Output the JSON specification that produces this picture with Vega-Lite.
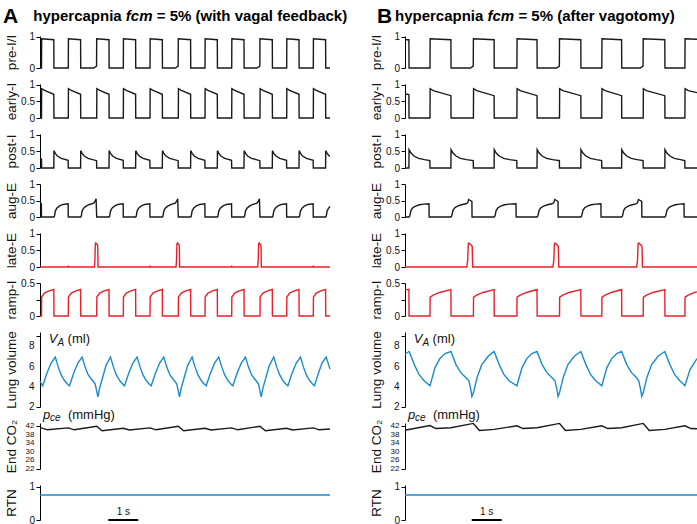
{
"$schema":"https://vega.github.io/schema/vega-lite/v6.json",
"background":"white",
"padding":{"left":3,"top":6,"right":0,"bottom":0},
"config":{"view":{"stroke":null},"font":"Liberation Sans",
"axis":{"domainColor":"#000","tickColor":"#000","tickSize":4,"labelFontSize":10,"labelPadding":1.5,"labelColor":"#111","titleColor":"#111","titleFontSize":13.5,"titleFontWeight":"normal","titlePadding":2,"minExtent":20,"maxExtent":20,"grid":false,"labelOverlap":false,"labelFlush":false,"labelFont":"Liberation Sans","titleFont":"Liberation Sans","format":"~g"}},
"datasets":{
"A_pre":[{"t":0,"v":0},{"t":0.05,"v":0},{"t":0.055,"v":0.93},{"t":0.46,"v":0.9},{"t":0.465,"v":0},{"t":0.943,"v":0},{"t":0.948,"v":0.93},{"t":1.353,"v":0.9},{"t":1.358,"v":0},{"t":1.79,"v":0},{"t":1.885,"v":0.06},{"t":1.89,"v":0.93},{"t":2.3,"v":0.9},{"t":2.305,"v":0},{"t":2.777,"v":0},{"t":2.782,"v":0.93},{"t":3.187,"v":0.9},{"t":3.192,"v":0},{"t":3.667,"v":0},{"t":3.672,"v":0.93},{"t":4.077,"v":0.9},{"t":4.082,"v":0},{"t":4.51,"v":0},{"t":4.605,"v":0.06},{"t":4.61,"v":0.93},{"t":5.02,"v":0.9},{"t":5.025,"v":0},{"t":5.5,"v":0},{"t":5.505,"v":0.93},{"t":5.91,"v":0.9},{"t":5.915,"v":0},{"t":6.39,"v":0},{"t":6.395,"v":0.93},{"t":6.8,"v":0.9},{"t":6.805,"v":0},{"t":7.233,"v":0},{"t":7.328,"v":0.06},{"t":7.333,"v":0.93},{"t":7.743,"v":0.9},{"t":7.748,"v":0},{"t":8.223,"v":0},{"t":8.228,"v":0.93},{"t":8.633,"v":0.9},{"t":8.638,"v":0},{"t":9.11,"v":0},{"t":9.115,"v":0.93},{"t":9.52,"v":0.9},{"t":9.525,"v":0},{"t":9.667,"v":0}],
"A_early":[{"t":0,"v":0},{"t":0.05,"v":0},{"t":0.055,"v":0.88},{"t":0.15,"v":0.83},{"t":0.46,"v":0.71},{"t":0.465,"v":0},{"t":0.943,"v":0},{"t":0.948,"v":0.88},{"t":1.043,"v":0.83},{"t":1.353,"v":0.71},{"t":1.358,"v":0},{"t":1.89,"v":0},{"t":1.895,"v":0.88},{"t":1.99,"v":0.83},{"t":2.3,"v":0.71},{"t":2.305,"v":0},{"t":2.777,"v":0},{"t":2.782,"v":0.88},{"t":2.877,"v":0.83},{"t":3.187,"v":0.71},{"t":3.192,"v":0},{"t":3.667,"v":0},{"t":3.672,"v":0.88},{"t":3.767,"v":0.83},{"t":4.077,"v":0.71},{"t":4.082,"v":0},{"t":4.61,"v":0},{"t":4.615,"v":0.88},{"t":4.71,"v":0.83},{"t":5.02,"v":0.71},{"t":5.025,"v":0},{"t":5.5,"v":0},{"t":5.505,"v":0.88},{"t":5.6,"v":0.83},{"t":5.91,"v":0.71},{"t":5.915,"v":0},{"t":6.39,"v":0},{"t":6.395,"v":0.88},{"t":6.49,"v":0.83},{"t":6.8,"v":0.71},{"t":6.805,"v":0},{"t":7.333,"v":0},{"t":7.338,"v":0.88},{"t":7.433,"v":0.83},{"t":7.743,"v":0.71},{"t":7.748,"v":0},{"t":8.223,"v":0},{"t":8.228,"v":0.88},{"t":8.323,"v":0.83},{"t":8.633,"v":0.71},{"t":8.638,"v":0},{"t":9.11,"v":0},{"t":9.115,"v":0.88},{"t":9.21,"v":0.83},{"t":9.52,"v":0.71},{"t":9.525,"v":0},{"t":9.667,"v":0}],
"A_post":[{"t":0,"v":0.28},{"t":0.05,"v":0.27},{"t":0.055,"v":0},{"t":0.46,"v":0},{"t":0.465,"v":0.52},{"t":0.51,"v":0.44},{"t":0.58,"v":0.36},{"t":0.71,"v":0.29},{"t":0.938,"v":0.23},{"t":0.943,"v":0},{"t":1.353,"v":0},{"t":1.358,"v":0.52},{"t":1.403,"v":0.44},{"t":1.473,"v":0.36},{"t":1.603,"v":0.29},{"t":1.885,"v":0.22},{"t":1.89,"v":0},{"t":2.3,"v":0},{"t":2.305,"v":0.52},{"t":2.35,"v":0.44},{"t":2.42,"v":0.36},{"t":2.55,"v":0.29},{"t":2.772,"v":0.23},{"t":2.777,"v":0},{"t":3.187,"v":0},{"t":3.192,"v":0.52},{"t":3.237,"v":0.44},{"t":3.307,"v":0.36},{"t":3.437,"v":0.29},{"t":3.662,"v":0.23},{"t":3.667,"v":0},{"t":4.077,"v":0},{"t":4.082,"v":0.52},{"t":4.127,"v":0.44},{"t":4.197,"v":0.36},{"t":4.327,"v":0.29},{"t":4.605,"v":0.22},{"t":4.61,"v":0},{"t":5.02,"v":0},{"t":5.025,"v":0.52},{"t":5.07,"v":0.44},{"t":5.14,"v":0.36},{"t":5.27,"v":0.29},{"t":5.495,"v":0.23},{"t":5.5,"v":0},{"t":5.91,"v":0},{"t":5.915,"v":0.52},{"t":5.96,"v":0.44},{"t":6.03,"v":0.36},{"t":6.16,"v":0.29},{"t":6.385,"v":0.23},{"t":6.39,"v":0},{"t":6.8,"v":0},{"t":6.805,"v":0.52},{"t":6.85,"v":0.44},{"t":6.92,"v":0.36},{"t":7.05,"v":0.29},{"t":7.328,"v":0.22},{"t":7.333,"v":0},{"t":7.743,"v":0},{"t":7.748,"v":0.52},{"t":7.793,"v":0.44},{"t":7.863,"v":0.36},{"t":7.993,"v":0.29},{"t":8.218,"v":0.23},{"t":8.223,"v":0},{"t":8.633,"v":0},{"t":8.638,"v":0.52},{"t":8.683,"v":0.44},{"t":8.753,"v":0.36},{"t":8.883,"v":0.29},{"t":9.105,"v":0.23},{"t":9.11,"v":0},{"t":9.52,"v":0},{"t":9.525,"v":0.52},{"t":9.57,"v":0.44},{"t":9.64,"v":0.36},{"t":9.667,"v":0.35}],
"A_aug":[{"t":0,"v":0.4},{"t":0.045,"v":0.4},{"t":0.05,"v":0},{"t":0.46,"v":0},{"t":0.48,"v":0.02},{"t":0.51,"v":0.18},{"t":0.56,"v":0.27},{"t":0.64,"v":0.33},{"t":0.76,"v":0.38},{"t":0.938,"v":0.4},{"t":0.943,"v":0},{"t":1.353,"v":0},{"t":1.373,"v":0.02},{"t":1.403,"v":0.18},{"t":1.453,"v":0.27},{"t":1.533,"v":0.33},{"t":1.653,"v":0.38},{"t":1.79,"v":0.42},{"t":1.85,"v":0.5},{"t":1.87,"v":0.55},{"t":1.89,"v":0},{"t":2.3,"v":0},{"t":2.32,"v":0.02},{"t":2.35,"v":0.18},{"t":2.4,"v":0.27},{"t":2.48,"v":0.33},{"t":2.6,"v":0.38},{"t":2.772,"v":0.4},{"t":2.777,"v":0},{"t":3.187,"v":0},{"t":3.207,"v":0.02},{"t":3.237,"v":0.18},{"t":3.287,"v":0.27},{"t":3.367,"v":0.33},{"t":3.487,"v":0.38},{"t":3.662,"v":0.4},{"t":3.667,"v":0},{"t":4.077,"v":0},{"t":4.097,"v":0.02},{"t":4.127,"v":0.18},{"t":4.177,"v":0.27},{"t":4.257,"v":0.33},{"t":4.377,"v":0.38},{"t":4.51,"v":0.42},{"t":4.57,"v":0.5},{"t":4.59,"v":0.55},{"t":4.61,"v":0},{"t":5.02,"v":0},{"t":5.04,"v":0.02},{"t":5.07,"v":0.18},{"t":5.12,"v":0.27},{"t":5.2,"v":0.33},{"t":5.32,"v":0.38},{"t":5.495,"v":0.4},{"t":5.5,"v":0},{"t":5.91,"v":0},{"t":5.93,"v":0.02},{"t":5.96,"v":0.18},{"t":6.01,"v":0.27},{"t":6.09,"v":0.33},{"t":6.21,"v":0.38},{"t":6.385,"v":0.4},{"t":6.39,"v":0},{"t":6.8,"v":0},{"t":6.82,"v":0.02},{"t":6.85,"v":0.18},{"t":6.9,"v":0.27},{"t":6.98,"v":0.33},{"t":7.1,"v":0.38},{"t":7.233,"v":0.42},{"t":7.293,"v":0.5},{"t":7.313,"v":0.55},{"t":7.333,"v":0},{"t":7.743,"v":0},{"t":7.763,"v":0.02},{"t":7.793,"v":0.18},{"t":7.843,"v":0.27},{"t":7.923,"v":0.33},{"t":8.043,"v":0.38},{"t":8.218,"v":0.4},{"t":8.223,"v":0},{"t":8.633,"v":0},{"t":8.653,"v":0.02},{"t":8.683,"v":0.18},{"t":8.733,"v":0.27},{"t":8.813,"v":0.33},{"t":8.933,"v":0.38},{"t":9.105,"v":0.4},{"t":9.11,"v":0},{"t":9.52,"v":0},{"t":9.54,"v":0.02},{"t":9.57,"v":0.18},{"t":9.62,"v":0.27},{"t":9.667,"v":0.32}],
"A_late":[{"t":0,"v":0},{"t":0.933,"v":0},{"t":0.943,"v":0.04},{"t":0.953,"v":0},{"t":1.815,"v":0},{"t":1.83,"v":0.2},{"t":1.845,"v":0.7},{"t":1.86,"v":0.72},{"t":1.91,"v":0.67},{"t":1.925,"v":0.62},{"t":1.935,"v":0},{"t":3.657,"v":0},{"t":3.667,"v":0.04},{"t":3.677,"v":0},{"t":4.535,"v":0},{"t":4.55,"v":0.2},{"t":4.565,"v":0.7},{"t":4.58,"v":0.72},{"t":4.63,"v":0.67},{"t":4.645,"v":0.62},{"t":4.655,"v":0},{"t":6.38,"v":0},{"t":6.39,"v":0.04},{"t":6.4,"v":0},{"t":7.258,"v":0},{"t":7.273,"v":0.2},{"t":7.288,"v":0.7},{"t":7.303,"v":0.72},{"t":7.353,"v":0.67},{"t":7.368,"v":0.62},{"t":7.378,"v":0},{"t":9.1,"v":0},{"t":9.11,"v":0.04},{"t":9.12,"v":0},{"t":9.667,"v":0}],
"A_ramp":[{"t":0,"v":0},{"t":0.05,"v":0},{"t":0.055,"v":0.29},{"t":0.15,"v":0.35},{"t":0.3,"v":0.385},{"t":0.46,"v":0.405},{"t":0.465,"v":0},{"t":0.943,"v":0},{"t":0.948,"v":0.29},{"t":1.043,"v":0.35},{"t":1.193,"v":0.385},{"t":1.353,"v":0.405},{"t":1.358,"v":0},{"t":1.89,"v":0},{"t":1.895,"v":0.29},{"t":1.99,"v":0.35},{"t":2.14,"v":0.385},{"t":2.3,"v":0.405},{"t":2.305,"v":0},{"t":2.777,"v":0},{"t":2.782,"v":0.29},{"t":2.877,"v":0.35},{"t":3.027,"v":0.385},{"t":3.187,"v":0.405},{"t":3.192,"v":0},{"t":3.667,"v":0},{"t":3.672,"v":0.29},{"t":3.767,"v":0.35},{"t":3.917,"v":0.385},{"t":4.077,"v":0.405},{"t":4.082,"v":0},{"t":4.61,"v":0},{"t":4.615,"v":0.29},{"t":4.71,"v":0.35},{"t":4.86,"v":0.385},{"t":5.02,"v":0.405},{"t":5.025,"v":0},{"t":5.5,"v":0},{"t":5.505,"v":0.29},{"t":5.6,"v":0.35},{"t":5.75,"v":0.385},{"t":5.91,"v":0.405},{"t":5.915,"v":0},{"t":6.39,"v":0},{"t":6.395,"v":0.29},{"t":6.49,"v":0.35},{"t":6.64,"v":0.385},{"t":6.8,"v":0.405},{"t":6.805,"v":0},{"t":7.333,"v":0},{"t":7.338,"v":0.29},{"t":7.433,"v":0.35},{"t":7.583,"v":0.385},{"t":7.743,"v":0.405},{"t":7.748,"v":0},{"t":8.223,"v":0},{"t":8.228,"v":0.29},{"t":8.323,"v":0.35},{"t":8.473,"v":0.385},{"t":8.633,"v":0.405},{"t":8.638,"v":0},{"t":9.11,"v":0},{"t":9.115,"v":0.29},{"t":9.21,"v":0.35},{"t":9.36,"v":0.385},{"t":9.52,"v":0.405},{"t":9.525,"v":0},{"t":9.667,"v":0}],
"A_lung":[{"t":0,"v":4.55},{"t":0.09,"v":4.1},{"t":0.23,"v":5.35},{"t":0.37,"v":6.35},{"t":0.51,"v":6.95},{"t":0.61,"v":5.95},{"t":0.71,"v":5.15},{"t":0.82,"v":4.6},{"t":0.92,"v":4.25},{"t":0.983,"v":4.1},{"t":1.123,"v":5.35},{"t":1.263,"v":6.35},{"t":1.403,"v":6.95},{"t":1.503,"v":5.95},{"t":1.603,"v":5.2},{"t":1.703,"v":4.8},{"t":1.76,"v":4.6},{"t":1.84,"v":4.27},{"t":1.93,"v":3.0},{"t":1.99,"v":3.9},{"t":2.09,"v":4.95},{"t":2.2,"v":6.1},{"t":2.35,"v":6.95},{"t":2.45,"v":5.95},{"t":2.55,"v":5.15},{"t":2.66,"v":4.6},{"t":2.76,"v":4.25},{"t":2.817,"v":4.1},{"t":2.957,"v":5.35},{"t":3.097,"v":6.35},{"t":3.237,"v":6.95},{"t":3.337,"v":5.95},{"t":3.437,"v":5.15},{"t":3.547,"v":4.6},{"t":3.647,"v":4.25},{"t":3.707,"v":4.1},{"t":3.847,"v":5.35},{"t":3.987,"v":6.35},{"t":4.127,"v":6.95},{"t":4.227,"v":5.95},{"t":4.327,"v":5.2},{"t":4.427,"v":4.8},{"t":4.48,"v":4.6},{"t":4.56,"v":4.27},{"t":4.65,"v":3.0},{"t":4.71,"v":3.9},{"t":4.81,"v":4.95},{"t":4.92,"v":6.1},{"t":5.07,"v":6.95},{"t":5.17,"v":5.95},{"t":5.27,"v":5.15},{"t":5.38,"v":4.6},{"t":5.48,"v":4.25},{"t":5.54,"v":4.1},{"t":5.68,"v":5.35},{"t":5.82,"v":6.35},{"t":5.96,"v":6.95},{"t":6.06,"v":5.95},{"t":6.16,"v":5.15},{"t":6.27,"v":4.6},{"t":6.37,"v":4.25},{"t":6.43,"v":4.1},{"t":6.57,"v":5.35},{"t":6.71,"v":6.35},{"t":6.85,"v":6.95},{"t":6.95,"v":5.95},{"t":7.05,"v":5.2},{"t":7.15,"v":4.8},{"t":7.203,"v":4.6},{"t":7.283,"v":4.27},{"t":7.373,"v":3.0},{"t":7.433,"v":3.9},{"t":7.533,"v":4.95},{"t":7.643,"v":6.1},{"t":7.793,"v":6.95},{"t":7.893,"v":5.95},{"t":7.993,"v":5.15},{"t":8.103,"v":4.6},{"t":8.203,"v":4.25},{"t":8.263,"v":4.1},{"t":8.403,"v":5.35},{"t":8.543,"v":6.35},{"t":8.683,"v":6.95},{"t":8.783,"v":5.95},{"t":8.883,"v":5.15},{"t":8.993,"v":4.6},{"t":9.093,"v":4.25},{"t":9.15,"v":4.1},{"t":9.28,"v":5.35},{"t":9.4,"v":6.35},{"t":9.54,"v":6.95},{"t":9.667,"v":5.75}],
"A_co2":[{"t":0,"v":41.3},{"t":0.05,"v":41.3},{"t":0.25,"v":40.4},{"t":0.943,"v":41.3},{"t":1.143,"v":40.4},{"t":1.89,"v":42.1},{"t":2.07,"v":40.0},{"t":2.777,"v":41.1},{"t":2.977,"v":40.3},{"t":3.667,"v":41.3},{"t":3.867,"v":40.4},{"t":4.61,"v":42.1},{"t":4.79,"v":40.0},{"t":5.5,"v":41.1},{"t":5.7,"v":40.3},{"t":6.39,"v":41.3},{"t":6.59,"v":40.4},{"t":7.333,"v":42.1},{"t":7.513,"v":40.0},{"t":8.223,"v":41.1},{"t":8.423,"v":40.3},{"t":9.11,"v":41.3},{"t":9.31,"v":40.4},{"t":9.667,"v":40.8}],
"A_rtn":[{"t":0,"v":0.75},{"t":9.667,"v":0.75}],
"B_pre":[{"t":0,"v":0.9},{"t":0.13,"v":0.9},{"t":0.135,"v":0},{"t":0.833,"v":0},{"t":0.838,"v":0.93},{"t":1.53,"v":0.9},{"t":1.535,"v":0},{"t":2.18,"v":0},{"t":2.275,"v":0.06},{"t":2.28,"v":0.93},{"t":2.97,"v":0.9},{"t":2.975,"v":0},{"t":3.73,"v":0},{"t":3.735,"v":0.93},{"t":4.4,"v":0.9},{"t":4.405,"v":0},{"t":5.05,"v":0},{"t":5.145,"v":0.06},{"t":5.15,"v":0.93},{"t":5.86,"v":0.9},{"t":5.865,"v":0},{"t":6.56,"v":0},{"t":6.565,"v":0.93},{"t":7.22,"v":0.9},{"t":7.225,"v":0},{"t":7.84,"v":0},{"t":7.935,"v":0.06},{"t":7.94,"v":0.93},{"t":8.66,"v":0.9},{"t":8.665,"v":0},{"t":9.33,"v":0},{"t":9.335,"v":0.93},{"t":9.733,"v":0.915}],
"B_early":[{"t":0,"v":0.72},{"t":0.13,"v":0.7},{"t":0.135,"v":0},{"t":0.833,"v":0},{"t":0.838,"v":0.88},{"t":0.94,"v":0.82},{"t":1.53,"v":0.67},{"t":1.535,"v":0},{"t":2.28,"v":0},{"t":2.285,"v":0.88},{"t":2.39,"v":0.82},{"t":2.97,"v":0.67},{"t":2.975,"v":0},{"t":3.73,"v":0},{"t":3.735,"v":0.88},{"t":3.84,"v":0.82},{"t":4.4,"v":0.67},{"t":4.405,"v":0},{"t":5.15,"v":0},{"t":5.155,"v":0.88},{"t":5.26,"v":0.82},{"t":5.86,"v":0.67},{"t":5.865,"v":0},{"t":6.56,"v":0},{"t":6.565,"v":0.88},{"t":6.67,"v":0.82},{"t":7.22,"v":0.67},{"t":7.225,"v":0},{"t":7.94,"v":0},{"t":7.945,"v":0.88},{"t":8.05,"v":0.82},{"t":8.66,"v":0.67},{"t":8.665,"v":0},{"t":9.33,"v":0},{"t":9.335,"v":0.88},{"t":9.44,"v":0.82},{"t":9.733,"v":0.76}],
"B_post":[{"t":0,"v":0},{"t":0.13,"v":0},{"t":0.135,"v":0.55},{"t":0.2,"v":0.45},{"t":0.3,"v":0.36},{"t":0.45,"v":0.29},{"t":0.65,"v":0.25},{"t":0.828,"v":0.22},{"t":0.833,"v":0},{"t":1.53,"v":0},{"t":1.535,"v":0.55},{"t":1.6,"v":0.45},{"t":1.7,"v":0.36},{"t":1.85,"v":0.29},{"t":2.05,"v":0.25},{"t":2.275,"v":0.22},{"t":2.28,"v":0},{"t":2.97,"v":0},{"t":2.975,"v":0.55},{"t":3.04,"v":0.45},{"t":3.14,"v":0.36},{"t":3.29,"v":0.29},{"t":3.49,"v":0.25},{"t":3.725,"v":0.22},{"t":3.73,"v":0},{"t":4.4,"v":0},{"t":4.405,"v":0.55},{"t":4.47,"v":0.45},{"t":4.57,"v":0.36},{"t":4.72,"v":0.29},{"t":4.92,"v":0.25},{"t":5.145,"v":0.22},{"t":5.15,"v":0},{"t":5.86,"v":0},{"t":5.865,"v":0.55},{"t":5.93,"v":0.45},{"t":6.03,"v":0.36},{"t":6.18,"v":0.29},{"t":6.38,"v":0.25},{"t":6.555,"v":0.22},{"t":6.56,"v":0},{"t":7.22,"v":0},{"t":7.225,"v":0.55},{"t":7.29,"v":0.45},{"t":7.39,"v":0.36},{"t":7.54,"v":0.29},{"t":7.74,"v":0.25},{"t":7.935,"v":0.22},{"t":7.94,"v":0},{"t":8.66,"v":0},{"t":8.665,"v":0.55},{"t":8.73,"v":0.45},{"t":8.83,"v":0.36},{"t":8.98,"v":0.29},{"t":9.18,"v":0.25},{"t":9.325,"v":0.22},{"t":9.33,"v":0},{"t":9.733,"v":0}],
"B_aug":[{"t":0,"v":0},{"t":0.13,"v":0},{"t":0.16,"v":0.03},{"t":0.2,"v":0.2},{"t":0.26,"v":0.28},{"t":0.35,"v":0.33},{"t":0.48,"v":0.37},{"t":0.63,"v":0.39},{"t":0.8,"v":0.4},{"t":0.805,"v":0},{"t":1.53,"v":0},{"t":1.56,"v":0.03},{"t":1.6,"v":0.2},{"t":1.66,"v":0.28},{"t":1.75,"v":0.33},{"t":1.88,"v":0.37},{"t":2.03,"v":0.4},{"t":2.09,"v":0.43},{"t":2.12,"v":0.53},{"t":2.18,"v":0.5},{"t":2.23,"v":0.47},{"t":2.235,"v":0},{"t":2.97,"v":0},{"t":3.0,"v":0.03},{"t":3.04,"v":0.2},{"t":3.1,"v":0.28},{"t":3.19,"v":0.33},{"t":3.32,"v":0.37},{"t":3.47,"v":0.39},{"t":3.7,"v":0.4},{"t":3.705,"v":0},{"t":4.4,"v":0},{"t":4.43,"v":0.03},{"t":4.47,"v":0.2},{"t":4.53,"v":0.28},{"t":4.62,"v":0.33},{"t":4.75,"v":0.37},{"t":4.9,"v":0.4},{"t":4.96,"v":0.43},{"t":4.99,"v":0.53},{"t":5.05,"v":0.5},{"t":5.1,"v":0.47},{"t":5.105,"v":0},{"t":5.86,"v":0},{"t":5.89,"v":0.03},{"t":5.93,"v":0.2},{"t":5.99,"v":0.28},{"t":6.08,"v":0.33},{"t":6.21,"v":0.37},{"t":6.36,"v":0.39},{"t":6.53,"v":0.4},{"t":6.535,"v":0},{"t":7.22,"v":0},{"t":7.25,"v":0.03},{"t":7.29,"v":0.2},{"t":7.35,"v":0.28},{"t":7.44,"v":0.33},{"t":7.57,"v":0.37},{"t":7.69,"v":0.4},{"t":7.75,"v":0.43},{"t":7.78,"v":0.53},{"t":7.84,"v":0.5},{"t":7.89,"v":0.47},{"t":7.895,"v":0},{"t":8.66,"v":0},{"t":8.69,"v":0.03},{"t":8.73,"v":0.2},{"t":8.79,"v":0.28},{"t":8.88,"v":0.33},{"t":9.01,"v":0.37},{"t":9.16,"v":0.39},{"t":9.3,"v":0.4},{"t":9.305,"v":0},{"t":9.733,"v":0}],
"B_late":[{"t":0,"v":0},{"t":2.06,"v":0},{"t":2.09,"v":0.2},{"t":2.11,"v":0.7},{"t":2.13,"v":0.72},{"t":2.21,"v":0.65},{"t":2.24,"v":0.62},{"t":2.255,"v":0},{"t":4.93,"v":0},{"t":4.96,"v":0.2},{"t":4.98,"v":0.7},{"t":5.0,"v":0.72},{"t":5.08,"v":0.65},{"t":5.11,"v":0.62},{"t":5.125,"v":0},{"t":7.72,"v":0},{"t":7.75,"v":0.2},{"t":7.77,"v":0.7},{"t":7.79,"v":0.72},{"t":7.87,"v":0.65},{"t":7.9,"v":0.62},{"t":7.915,"v":0},{"t":9.733,"v":0}],
"B_ramp":[{"t":0,"v":0.4},{"t":0.13,"v":0.41},{"t":0.135,"v":0},{"t":0.833,"v":0},{"t":0.838,"v":0.29},{"t":0.94,"v":0.32},{"t":1.15,"v":0.36},{"t":1.53,"v":0.405},{"t":1.535,"v":0},{"t":2.28,"v":0},{"t":2.285,"v":0.29},{"t":2.39,"v":0.32},{"t":2.6,"v":0.36},{"t":2.97,"v":0.405},{"t":2.975,"v":0},{"t":3.73,"v":0},{"t":3.735,"v":0.29},{"t":3.84,"v":0.32},{"t":4.05,"v":0.36},{"t":4.4,"v":0.405},{"t":4.405,"v":0},{"t":5.15,"v":0},{"t":5.155,"v":0.29},{"t":5.26,"v":0.32},{"t":5.47,"v":0.36},{"t":5.86,"v":0.405},{"t":5.865,"v":0},{"t":6.56,"v":0},{"t":6.565,"v":0.29},{"t":6.67,"v":0.32},{"t":6.88,"v":0.36},{"t":7.22,"v":0.405},{"t":7.225,"v":0},{"t":7.94,"v":0},{"t":7.945,"v":0.29},{"t":8.05,"v":0.32},{"t":8.26,"v":0.36},{"t":8.66,"v":0.405},{"t":8.665,"v":0},{"t":9.33,"v":0},{"t":9.335,"v":0.29},{"t":9.44,"v":0.32},{"t":9.65,"v":0.36},{"t":9.733,"v":0.37}],
"B_lung":[{"t":0,"v":7.25},{"t":0.14,"v":7.5},{"t":0.31,"v":6.2},{"t":0.47,"v":5.2},{"t":0.64,"v":4.6},{"t":0.833,"v":4.1},{"t":1.0,"v":5.9},{"t":1.163,"v":6.8},{"t":1.34,"v":7.3},{"t":1.53,"v":7.5},{"t":1.7,"v":6.2},{"t":1.86,"v":5.4},{"t":2.03,"v":4.9},{"t":2.13,"v":4.6},{"t":2.19,"v":3.8},{"t":2.23,"v":3.05},{"t":2.28,"v":3.4},{"t":2.4,"v":4.9},{"t":2.56,"v":6.2},{"t":2.78,"v":7.05},{"t":2.97,"v":7.5},{"t":3.14,"v":6.2},{"t":3.3,"v":5.2},{"t":3.47,"v":4.6},{"t":3.73,"v":4.1},{"t":3.9,"v":5.9},{"t":4.06,"v":6.8},{"t":4.23,"v":7.3},{"t":4.4,"v":7.5},{"t":4.57,"v":6.2},{"t":4.73,"v":5.4},{"t":4.9,"v":4.9},{"t":5.0,"v":4.6},{"t":5.06,"v":3.8},{"t":5.1,"v":3.05},{"t":5.15,"v":3.4},{"t":5.27,"v":4.9},{"t":5.43,"v":6.2},{"t":5.65,"v":7.05},{"t":5.86,"v":7.5},{"t":6.03,"v":6.2},{"t":6.19,"v":5.2},{"t":6.36,"v":4.6},{"t":6.56,"v":4.1},{"t":6.73,"v":5.9},{"t":6.89,"v":6.8},{"t":7.06,"v":7.3},{"t":7.22,"v":7.5},{"t":7.39,"v":6.2},{"t":7.55,"v":5.4},{"t":7.72,"v":4.9},{"t":7.79,"v":4.6},{"t":7.85,"v":3.8},{"t":7.89,"v":3.05},{"t":7.94,"v":3.4},{"t":8.06,"v":4.9},{"t":8.22,"v":6.2},{"t":8.44,"v":7.05},{"t":8.66,"v":7.5},{"t":8.83,"v":6.2},{"t":8.99,"v":5.2},{"t":9.16,"v":4.6},{"t":9.33,"v":4.1},{"t":9.5,"v":5.7},{"t":9.733,"v":6.8}],
"B_co2":[{"t":0,"v":40.2},{"t":0.833,"v":42.4},{"t":1.03,"v":41.0},{"t":1.53,"v":41.4},{"t":2.28,"v":43.4},{"t":2.48,"v":40.1},{"t":2.97,"v":40.6},{"t":3.73,"v":42.3},{"t":3.93,"v":41.0},{"t":4.4,"v":41.4},{"t":5.15,"v":43.4},{"t":5.35,"v":40.1},{"t":5.86,"v":40.6},{"t":6.56,"v":42.3},{"t":6.76,"v":41.0},{"t":7.22,"v":41.4},{"t":7.94,"v":43.4},{"t":8.14,"v":40.1},{"t":8.66,"v":40.6},{"t":9.33,"v":42.3},{"t":9.53,"v":41.0},{"t":9.733,"v":40.9}],
"B_rtn":[{"t":0,"v":0.75},{"t":9.733,"v":0.75}],
"lungTicks":[{"v":2},{"v":4},{"v":6},{"v":8}],
"co2Ticks":[{"v":22},{"v":26},{"v":30},{"v":34},{"v":38},{"v":42}]
},
"columns":2,
"spacing":{"row":16,"column":75},
"bounds":"flush",
"concat":[
{"width":290,"height":32,"layer":[
 {"data":{"name":"A_pre"},"mark":{"type":"line","color":"#1a1a1a","strokeWidth":1.4},"encoding":{"x":{"field":"t","type":"quantitative","scale":{"domain":[0,9.667],"nice":false,"zero":false},"axis":null},"y":{"field":"v","type":"quantitative","scale":{"domain":[0,1.02],"nice":false,"zero":false},"axis":{"title":"pre-I/I","values":[0,0.5,1],"format":"~g","labelOverlap":false}}}},
 {"data":{"values":[{}]},"mark":{"type":"text","text":"A","fontSize":21,"fontWeight":"bold","align":"left","baseline":"alphabetic","color":"#000"},"encoding":{"x":{"datum":-1.233},"y":{"datum":1.425}}},
 {"data":{"values":[{}]},"mark":{"type":"text","text":"hypercapnia","fontSize":15,"fontWeight":"bold","align":"left","baseline":"alphabetic","color":"#000"},"encoding":{"x":{"datum":-0.222},"y":{"datum":1.508}}},
 {"data":{"values":[{}]},"mark":{"type":"text","text":"fcm","fontSize":15,"fontWeight":"bold","fontStyle":"italic","align":"left","baseline":"alphabetic","color":"#000"},"encoding":{"x":{"datum":2.861},"y":{"datum":1.508}}},
 {"data":{"values":[{}]},"mark":{"type":"text","text":"= 5% (with vagal feedback)","fontSize":15,"fontWeight":"bold","align":"left","baseline":"alphabetic","color":"#000"},"encoding":{"x":{"datum":3.891},"y":{"datum":1.508}}}
]},
{"width":292,"height":32,"layer":[
 {"data":{"name":"B_pre"},"mark":{"type":"line","color":"#1a1a1a","strokeWidth":1.4},"encoding":{"x":{"field":"t","type":"quantitative","scale":{"domain":[0,9.733],"nice":false,"zero":false},"axis":null},"y":{"field":"v","type":"quantitative","scale":{"domain":[0,1.02],"nice":false,"zero":false},"axis":{"title":"pre-I/I","values":[0,0.5,1],"format":"~g","labelOverlap":false}}}},
 {"data":{"values":[{}]},"mark":{"type":"text","text":"B","fontSize":21,"fontWeight":"bold","align":"left","baseline":"alphabetic","color":"#000"},"encoding":{"x":{"datum":-0.933},"y":{"datum":1.425}}},
 {"data":{"values":[{}]},"mark":{"type":"text","text":"hypercapnia","fontSize":15,"fontWeight":"bold","align":"left","baseline":"alphabetic","color":"#000"},"encoding":{"x":{"datum":-0.333},"y":{"datum":1.508}}},
 {"data":{"values":[{}]},"mark":{"type":"text","text":"fcm","fontSize":15,"fontWeight":"bold","fontStyle":"italic","align":"left","baseline":"alphabetic","color":"#000"},"encoding":{"x":{"datum":2.75},"y":{"datum":1.508}}},
 {"data":{"values":[{}]},"mark":{"type":"text","text":"= 5% (after vagotomy)","fontSize":15,"fontWeight":"bold","align":"left","baseline":"alphabetic","color":"#000"},"encoding":{"x":{"datum":3.78},"y":{"datum":1.508}}}
]},
{"width":290,"height":34,"data":{"name":"A_early"},"mark":{"type":"line","color":"#1a1a1a","strokeWidth":1.4},"encoding":{"x":{"field":"t","type":"quantitative","scale":{"domain":[0,9.667],"nice":false,"zero":false},"axis":null},"y":{"field":"v","type":"quantitative","scale":{"domain":[0,1.02],"nice":false,"zero":false},"axis":{"title":"early-I","values":[0,0.5,1],"format":"~g","labelOverlap":false}}}},
{"width":292,"height":34,"data":{"name":"B_early"},"mark":{"type":"line","color":"#1a1a1a","strokeWidth":1.4},"encoding":{"x":{"field":"t","type":"quantitative","scale":{"domain":[0,9.733],"nice":false,"zero":false},"axis":null},"y":{"field":"v","type":"quantitative","scale":{"domain":[0,1.02],"nice":false,"zero":false},"axis":{"title":"early-I","values":[0,0.5,1],"format":"~g","labelOverlap":false}}}},
{"width":290,"height":34,"data":{"name":"A_post"},"mark":{"type":"line","color":"#1a1a1a","strokeWidth":1.4},"encoding":{"x":{"field":"t","type":"quantitative","scale":{"domain":[0,9.667],"nice":false,"zero":false},"axis":null},"y":{"field":"v","type":"quantitative","scale":{"domain":[0,1.02],"nice":false,"zero":false},"axis":{"title":"post-I","values":[0,0.5,1],"format":"~g","labelOverlap":false}}}},
{"width":292,"height":34,"data":{"name":"B_post"},"mark":{"type":"line","color":"#1a1a1a","strokeWidth":1.4},"encoding":{"x":{"field":"t","type":"quantitative","scale":{"domain":[0,9.733],"nice":false,"zero":false},"axis":null},"y":{"field":"v","type":"quantitative","scale":{"domain":[0,1.02],"nice":false,"zero":false},"axis":{"title":"post-I","values":[0,0.5,1],"format":"~g","labelOverlap":false}}}},
{"width":290,"height":33,"data":{"name":"A_aug"},"mark":{"type":"line","color":"#1a1a1a","strokeWidth":1.4},"encoding":{"x":{"field":"t","type":"quantitative","scale":{"domain":[0,9.667],"nice":false,"zero":false},"axis":null},"y":{"field":"v","type":"quantitative","scale":{"domain":[0,1.0],"nice":false,"zero":false},"axis":{"title":"aug-E","values":[0,0.5,1],"format":"~g","labelOverlap":false}}}},
{"width":292,"height":33,"data":{"name":"B_aug"},"mark":{"type":"line","color":"#1a1a1a","strokeWidth":1.4},"encoding":{"x":{"field":"t","type":"quantitative","scale":{"domain":[0,9.733],"nice":false,"zero":false},"axis":null},"y":{"field":"v","type":"quantitative","scale":{"domain":[0,1.0],"nice":false,"zero":false},"axis":{"title":"aug-E","values":[0,0.5,1],"format":"~g","labelOverlap":false}}}},
{"width":290,"height":34,"data":{"name":"A_late"},"mark":{"type":"line","color":"#e8202a","strokeWidth":1.4},"encoding":{"x":{"field":"t","type":"quantitative","scale":{"domain":[0,9.667],"nice":false,"zero":false},"axis":null},"y":{"field":"v","type":"quantitative","scale":{"domain":[0,1.02],"nice":false,"zero":false},"axis":{"title":"late-E","values":[0,0.5,1],"format":"~g","labelOverlap":false}}}},
{"width":292,"height":34,"data":{"name":"B_late"},"mark":{"type":"line","color":"#e8202a","strokeWidth":1.4},"encoding":{"x":{"field":"t","type":"quantitative","scale":{"domain":[0,9.733],"nice":false,"zero":false},"axis":null},"y":{"field":"v","type":"quantitative","scale":{"domain":[0,1.02],"nice":false,"zero":false},"axis":{"title":"late-E","values":[0,0.5,1],"format":"~g","labelOverlap":false}}}},
{"width":290,"height":33,"data":{"name":"A_ramp"},"mark":{"type":"line","color":"#e8202a","strokeWidth":1.4},"encoding":{"x":{"field":"t","type":"quantitative","scale":{"domain":[0,9.667],"nice":false,"zero":false},"axis":null},"y":{"field":"v","type":"quantitative","scale":{"domain":[0,0.505],"nice":false,"zero":false},"axis":{"title":"ramp-I","values":[0,0.25,0.5],"labelOverlap":false,"labelExpr":"datum.value == 0.25 ? '' : (datum.value == 0 ? '0' : '0.5')"}}}},
{"width":292,"height":33,"data":{"name":"B_ramp"},"mark":{"type":"line","color":"#e8202a","strokeWidth":1.4},"encoding":{"x":{"field":"t","type":"quantitative","scale":{"domain":[0,9.733],"nice":false,"zero":false},"axis":null},"y":{"field":"v","type":"quantitative","scale":{"domain":[0,0.505],"nice":false,"zero":false},"axis":{"title":"ramp-I","values":[0,0.25,0.5],"labelOverlap":false,"labelExpr":"datum.value == 0.25 ? '' : (datum.value == 0 ? '0' : '0.5')"}}}},
{"width":290,"height":75,"layer":[
 {"data":{"name":"A_lung"},"mark":{"type":"line","color":"#1a8bcb","strokeWidth":1.4},"encoding":{"x":{"field":"t","type":"quantitative","scale":{"domain":[0,9.667],"nice":false,"zero":false},"axis":null},"y":{"field":"v","type":"quantitative","scale":{"domain":[2,9.43],"nice":false,"zero":false},"axis":{"title":"Lung volume","values":[2,3,4,5,6,7,8,9],"labels":false}}}},
 {"data":{"name":"lungTicks"},"mark":{"type":"text","fontSize":10,"align":"right","baseline":"middle","color":"#111"},"encoding":{"x":{"datum":-0.185},"y":{"field":"v","type":"quantitative"},"text":{"field":"v","type":"quantitative"}}},
 {"data":{"values":[{}]},"mark":{"type":"text","text":"V","fontSize":13,"fontStyle":"italic","align":"left","baseline":"alphabetic","color":"#111"},"encoding":{"x":{"datum":0.29},"y":{"datum":8.31}}},
 {"data":{"values":[{}]},"mark":{"type":"text","text":"A","fontSize":10,"fontStyle":"italic","align":"left","baseline":"alphabetic","color":"#111"},"encoding":{"x":{"datum":0.585},"y":{"datum":8.0}}},
 {"data":{"values":[{}]},"mark":{"type":"text","text":"(ml)","fontSize":13,"align":"left","baseline":"alphabetic","color":"#111"},"encoding":{"x":{"datum":0.92},"y":{"datum":8.31}}}
]},
{"width":292,"height":75,"layer":[
 {"data":{"name":"B_lung"},"mark":{"type":"line","color":"#1a8bcb","strokeWidth":1.4},"encoding":{"x":{"field":"t","type":"quantitative","scale":{"domain":[0,9.733],"nice":false,"zero":false},"axis":null},"y":{"field":"v","type":"quantitative","scale":{"domain":[2,9.43],"nice":false,"zero":false},"axis":{"title":"Lung volume","values":[2,3,4,5,6,7,8,9],"labels":false}}}},
 {"data":{"name":"lungTicks"},"mark":{"type":"text","fontSize":10,"align":"right","baseline":"middle","color":"#111"},"encoding":{"x":{"datum":-0.185},"y":{"field":"v","type":"quantitative"},"text":{"field":"v","type":"quantitative"}}},
 {"data":{"values":[{}]},"mark":{"type":"text","text":"V","fontSize":13,"fontStyle":"italic","align":"left","baseline":"alphabetic","color":"#111"},"encoding":{"x":{"datum":0.29},"y":{"datum":8.31}}},
 {"data":{"values":[{}]},"mark":{"type":"text","text":"A","fontSize":10,"fontStyle":"italic","align":"left","baseline":"alphabetic","color":"#111"},"encoding":{"x":{"datum":0.585},"y":{"datum":8.0}}},
 {"data":{"values":[{}]},"mark":{"type":"text","text":"(ml)","fontSize":13,"align":"left","baseline":"alphabetic","color":"#111"},"encoding":{"x":{"datum":0.92},"y":{"datum":8.31}}}
]},
{"width":290,"height":46,"layer":[
 {"data":{"name":"A_co2"},"mark":{"type":"line","color":"#1a1a1a","strokeWidth":1.4},"encoding":{"x":{"field":"t","type":"quantitative","scale":{"domain":[0,9.667],"nice":false,"zero":false},"axis":null},"y":{"field":"v","type":"quantitative","scale":{"domain":[22,43.6],"nice":false,"zero":false},"axis":{"title":"End CO₂","values":[22,26,30,34,38,42],"labels":false}}}},
 {"data":{"name":"co2Ticks"},"mark":{"type":"text","fontSize":8,"align":"right","baseline":"middle","color":"#111"},"encoding":{"x":{"datum":-0.185},"y":{"field":"v","type":"quantitative"},"text":{"field":"v","type":"quantitative"}}},
 {"data":{"values":[{}]},"mark":{"type":"text","text":"p","fontSize":13,"fontStyle":"italic","align":"left","baseline":"alphabetic","color":"#111"},"encoding":{"x":{"datum":0.1},"y":{"datum":45.7}}},
 {"data":{"values":[{}]},"mark":{"type":"text","text":"ce","fontSize":10,"fontStyle":"italic","align":"left","baseline":"alphabetic","color":"#111"},"encoding":{"x":{"datum":0.33},"y":{"datum":44.5}}},
 {"data":{"values":[{}]},"mark":{"type":"text","text":"(mmHg)","fontSize":13,"align":"left","baseline":"alphabetic","color":"#111"},"encoding":{"x":{"datum":0.93},"y":{"datum":45.7}}}
]},
{"width":292,"height":46,"layer":[
 {"data":{"name":"B_co2"},"mark":{"type":"line","color":"#1a1a1a","strokeWidth":1.4},"encoding":{"x":{"field":"t","type":"quantitative","scale":{"domain":[0,9.733],"nice":false,"zero":false},"axis":null},"y":{"field":"v","type":"quantitative","scale":{"domain":[22,43.6],"nice":false,"zero":false},"axis":{"title":"End CO₂","values":[22,26,30,34,38,42],"labels":false}}}},
 {"data":{"name":"co2Ticks"},"mark":{"type":"text","fontSize":8,"align":"right","baseline":"middle","color":"#111"},"encoding":{"x":{"datum":-0.185},"y":{"field":"v","type":"quantitative"},"text":{"field":"v","type":"quantitative"}}},
 {"data":{"values":[{}]},"mark":{"type":"text","text":"p","fontSize":13,"fontStyle":"italic","align":"left","baseline":"alphabetic","color":"#111"},"encoding":{"x":{"datum":0.1},"y":{"datum":45.7}}},
 {"data":{"values":[{}]},"mark":{"type":"text","text":"ce","fontSize":10,"fontStyle":"italic","align":"left","baseline":"alphabetic","color":"#111"},"encoding":{"x":{"datum":0.33},"y":{"datum":44.5}}},
 {"data":{"values":[{}]},"mark":{"type":"text","text":"(mmHg)","fontSize":13,"align":"left","baseline":"alphabetic","color":"#111"},"encoding":{"x":{"datum":0.93},"y":{"datum":45.7}}}
]},
{"width":290,"height":35,"layer":[
 {"data":{"name":"A_rtn"},"mark":{"type":"line","color":"#1a8bcb","strokeWidth":1.4},"encoding":{"x":{"field":"t","type":"quantitative","scale":{"domain":[0,9.667],"nice":false,"zero":false},"axis":null},"y":{"field":"v","type":"quantitative","scale":{"domain":[0,1.05],"nice":false,"zero":false},"axis":{"title":"RTN","values":[0,0.5,1],"format":"~g","labelOverlap":false}}}},
 {"data":{"values":[{}]},"mark":{"type":"rule","color":"#000","strokeWidth":2},"encoding":{"x":{"datum":2.277},"x2":{"datum":3.277},"y":{"datum":0}}},
 {"data":{"values":[{}]},"mark":{"type":"text","text":"1 s","fontSize":10,"align":"center","baseline":"alphabetic","color":"#111"},"encoding":{"x":{"datum":2.777},"y":{"datum":0.14}}}
]},
{"width":292,"height":35,"layer":[
 {"data":{"name":"B_rtn"},"mark":{"type":"line","color":"#1a8bcb","strokeWidth":1.4},"encoding":{"x":{"field":"t","type":"quantitative","scale":{"domain":[0,9.733],"nice":false,"zero":false},"axis":null},"y":{"field":"v","type":"quantitative","scale":{"domain":[0,1.05],"nice":false,"zero":false},"axis":{"title":"RTN","values":[0,0.5,1],"format":"~g","labelOverlap":false}}}},
 {"data":{"values":[{}]},"mark":{"type":"rule","color":"#000","strokeWidth":2},"encoding":{"x":{"datum":2.223},"x2":{"datum":3.223},"y":{"datum":0}}},
 {"data":{"values":[{}]},"mark":{"type":"text","text":"1 s","fontSize":10,"align":"center","baseline":"alphabetic","color":"#111"},"encoding":{"x":{"datum":2.723},"y":{"datum":0.14}}}
]}
]
}
